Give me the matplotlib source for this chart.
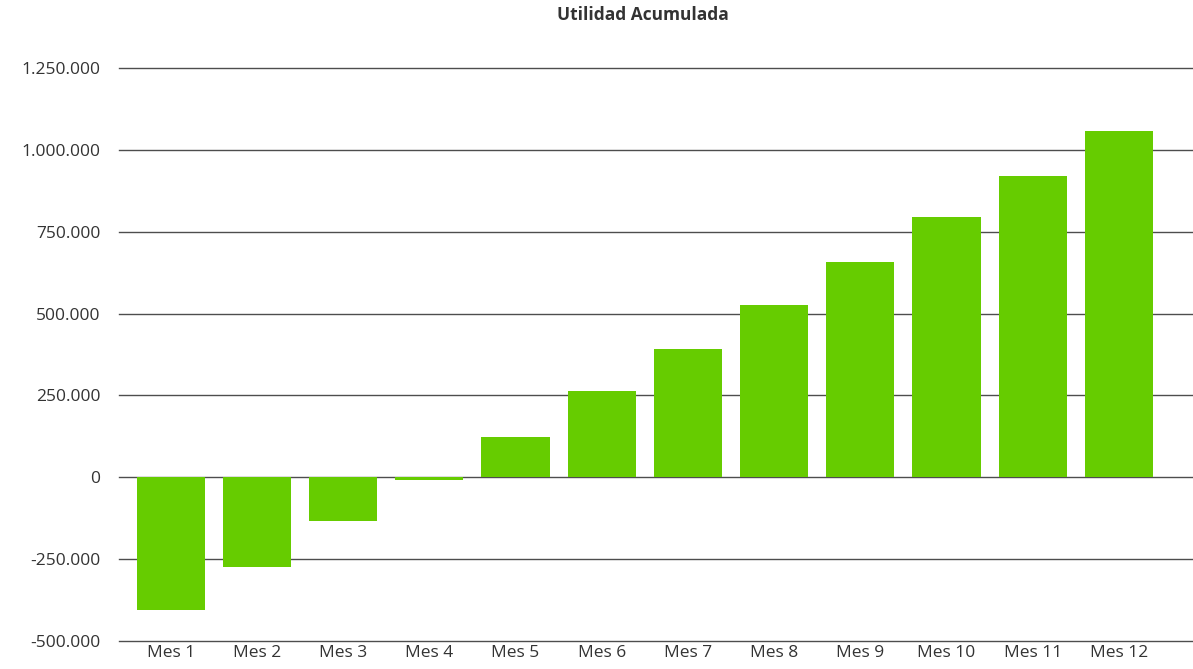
import matplotlib
matplotlib.use("Agg")
import matplotlib.pyplot as plt
from matplotlib.ticker import FuncFormatter

categories = ["Mes 1", "Mes 2", "Mes 3", "Mes 4", "Mes 5", "Mes 6",
              "Mes 7", "Mes 8", "Mes 9", "Mes 10", "Mes 11", "Mes 12"]
values = [-405000, -274000, -134000, -8000, 122000, 262000,
          393000, 527000, 658000, 796000, 921000, 1058000]
yticks = [-500000, -250000, 0, 250000, 500000, 750000, 1000000, 1250000]

plt.rcParams['font.family'] = ['Open Sans', 'DejaVu Sans']

fig = plt.figure(figsize=(11.93, 6.69), dpi=100)
ax = fig.add_axes([119/1193, 1-641/669, 1-119/1193, (641-68)/669])

x = list(range(len(categories)))
ax.bar(x, values, width=0.79, color="#66CC00", zorder=3)

ax.set_ylim(-500000, 1250000)
ax.set_xlim(-0.6, 11.86)
ax.set_yticks(yticks)
ax.yaxis.set_major_formatter(FuncFormatter(lambda v, p: f"{int(v):,}".replace(",", ".")))
ax.set_xticks(x)
ax.set_xticklabels(categories)
ax.grid(axis='y', color="#4d4d4d", linewidth=1.0, zorder=1)
ax.set_axisbelow(True)
for gl in ax.get_ygridlines():
    gl.set_clip_on(False)
for s in ax.spines.values():
    s.set_visible(False)
ax.tick_params(axis='both', length=0, labelsize=12.5, colors="#333333")
ax.tick_params(axis='y', pad=13.5)
ax.tick_params(axis='x', pad=3)

fig.text(643/1193, 1-15/669, "Utilidad Acumulada", ha='center', va='center',
         fontsize=12.5, fontweight='bold', color="#333333")

fig.savefig("out.png", dpi=100)
